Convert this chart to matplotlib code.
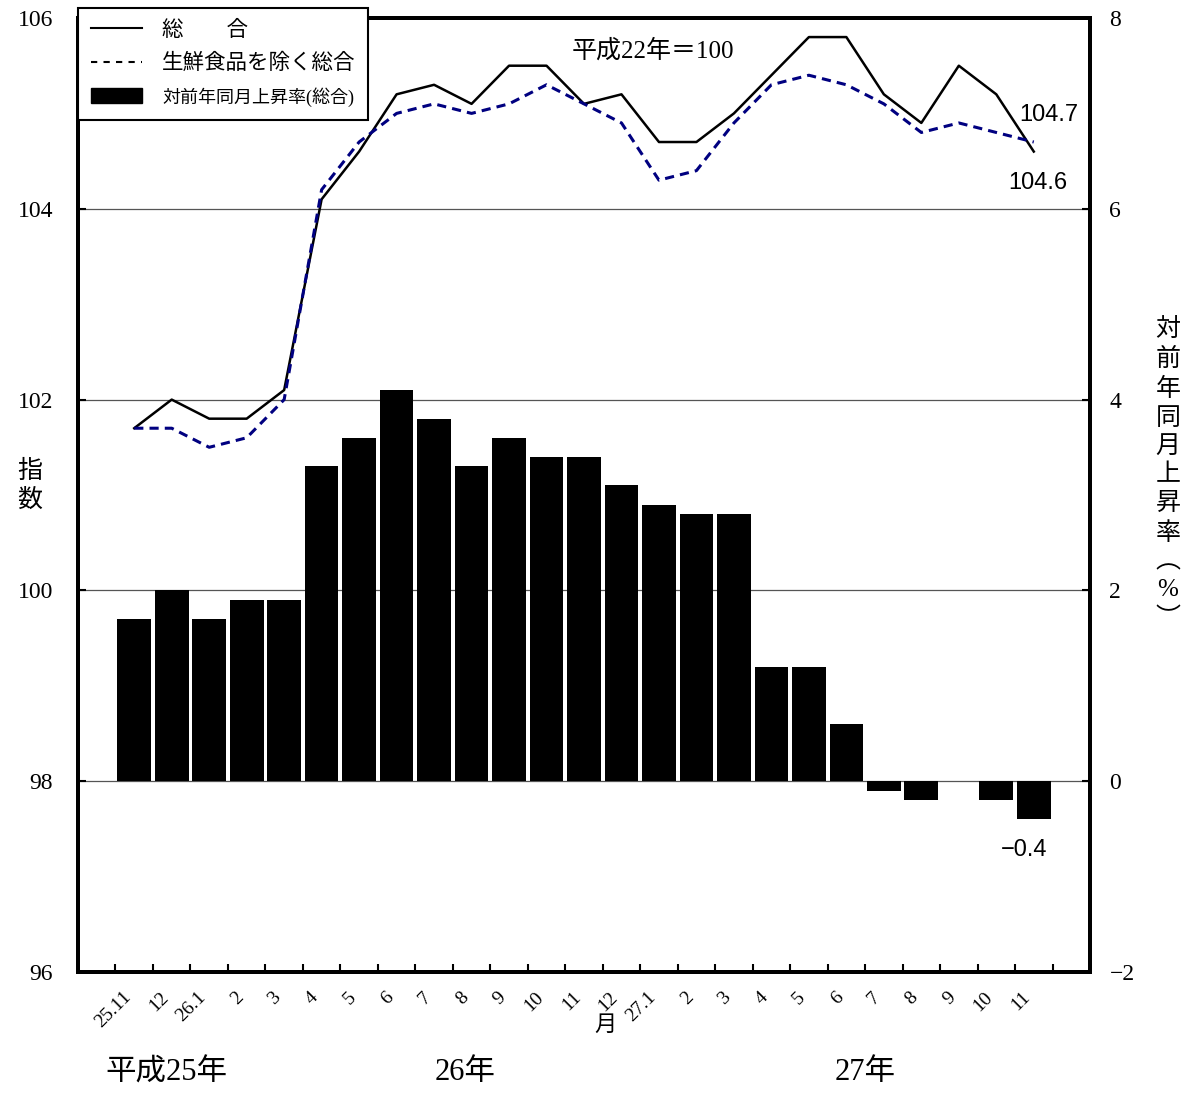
import matplotlib
matplotlib.use("Agg")
import matplotlib.pyplot as plt
from matplotlib.lines import Line2D
from matplotlib.patches import Patch
import numpy as np

plt.rcParams['font.family'] = ['Liberation Serif', 'Noto Sans CJK JP', 'DejaVu Sans']

# 月ラベル
meses = ["25.11", "12", "26.1", "2", "3", "4", "5", "6", "7", "8", "9", "10", "11", "12",
         "27.1", "2", "3", "4", "5", "6", "7", "8", "9", "10", "11"]
# 総合指数
sogo = [101.7, 102.0, 101.8, 101.8, 102.1, 104.1, 104.6, 105.2, 105.3, 105.1, 105.5, 105.5,
        105.1, 105.2, 104.7, 104.7, 105.0, 105.4, 105.8, 105.8, 105.2, 104.9, 105.5, 105.2, 104.6]
# 生鮮食品を除く総合
core = [101.7, 101.7, 101.5, 101.6, 102.0, 104.2, 104.7, 105.0, 105.1, 105.0, 105.1, 105.3,
        105.1, 104.9, 104.3, 104.4, 104.9, 105.3, 105.4, 105.3, 105.1, 104.8, 104.9, 104.8, 104.7]
# 対前年同月上昇率(総合)
tasa = [1.7, 2.0, 1.7, 1.9, 1.9, 3.3, 3.6, 4.1, 3.8, 3.3, 3.6, 3.4, 3.4, 3.1, 2.9, 2.8, 2.8,
        1.2, 1.2, 0.6, -0.1, -0.2, 0.0, -0.2, -0.4]

x = np.arange(len(meses))
W, H = 1192, 1093

fig = plt.figure(figsize=(W / 100, H / 100), dpi=100)
ax = fig.add_axes([78 / W, 1 - 972 / H, 1012 / W, 954 / H])
ax2 = ax.twinx()

# barras en eje derecho
ax2.bar(x, tasa, width=0.9, color="black", zorder=3)
ax2.set_ylim(-2, 8)
ax2.set_yticks(np.arange(-2, 9, 2))
ax2.set_yticklabels([str(v).replace("-", "\u2212") for v in range(-2, 9, 2)])
ax2.grid(axis="y", color="#555555", lw=0.9)
ax2.set_axisbelow(True)

# lineas en eje izquierdo
ax.set_zorder(ax2.get_zorder() + 1)
ax.patch.set_visible(False)
ax.plot(x, sogo, color="black", lw=1.8)
ax.plot(x, core, color="#000080", lw=2.2, ls=(0, (3.0, 2.0)))
ax.set_ylim(96, 106)
ax.set_yticks(np.arange(96, 107, 2))
ax.set_xlim(-1.5, 25.5)

# ticks en bordes de categoria
ax.set_xticks(np.arange(-0.5, len(meses), 1.0))
ax.set_xticklabels([])
ax.set_xticks(x, minor=True)
ax.set_xticklabels(meses, minor=True, rotation=45, ha="right", va="top", fontsize=14)
ax.tick_params(axis="x", which="minor", length=0, pad=12)
ax.tick_params(axis="x", which="major", direction="in", length=6, width=1.5)
ax.tick_params(axis="y", direction="in", length=6, width=1.5, labelsize=17, pad=18)
ax2.tick_params(axis="y", direction="in", length=6, width=1.5, labelsize=17, pad=14)

for a in (ax, ax2):
    for s in a.spines.values():
        s.set_linewidth(2.8)

# anotaciones
ax.text(x[-1] + 0.4, 104.98, "104.7", fontsize=17, ha="center", va="center",
        family=["Liberation Sans"])
ax.text(x[-1] + 0.1, 104.27, "104.6", fontsize=17, ha="center", va="center",
        family=["Liberation Sans"])
ax2.text(x[-1] - 0.25, -0.72, "\u22120.4", fontsize=17, ha="center", va="center",
         family=["Liberation Sans"])
ax.text(13.85, 105.65, "平成22年＝100", fontsize=18, ha="center", va="center")

# etiquetas de ejes
fig.text(30 / W, 1 - 486 / H, "指\n数", fontsize=18, ha="center", va="center", linespacing=1.35)
fig.text(1168 / W, 1 - 474 / H, "\n".join(["対", "前", "年", "同", "月", "上", "昇", "率", "︵", "%", "︶"]),
         fontsize=18, ha="center", va="center", linespacing=1.38)
fig.text(605 / W, 1 - 1026 / H, "月", fontsize=16, ha="center", va="center")
fig.text(166 / W, 1 - 1073 / H, "平成25年", fontsize=22, ha="center", va="center")
fig.text(465 / W, 1 - 1073 / H, "26年", fontsize=22, ha="center", va="center")
fig.text(865 / W, 1 - 1073 / H, "27年", fontsize=22, ha="center", va="center")

# leyenda
handles = [Line2D([], [], color="black", lw=1.5),
           Line2D([], [], color="black", lw=1.5, ls=(0, (3, 3))),
           Patch(facecolor="black", edgecolor="black")]
labels = ["総　　合", "生鮮食品を除く総合", "対前年同月上昇率(総合)"]
leg = fig.legend(handles, labels, loc="upper left", bbox_to_anchor=(78 / W, 1 - 8 / H),
                 bbox_transform=fig.transFigure, borderaxespad=0, fancybox=False,
                 framealpha=1, edgecolor="black", fontsize=15.5, handlelength=2.35,
                 handletextpad=0.95, labelspacing=0.6, borderpad=0.6)
leg.get_frame().set_linewidth(1.5)
leg.get_texts()[2].set_fontsize(13)

fig.savefig("out.png", dpi=100)
